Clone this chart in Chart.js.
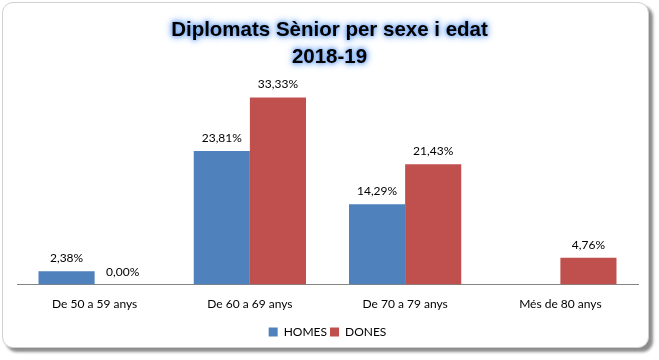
<!DOCTYPE html>
<html><head><meta charset="utf-8">
<script src="https://cdn.jsdelivr.net/npm/chart.js@4"></script>
<style>
html,body{margin:0;padding:0;background:#fff;width:659px;height:360px;overflow:hidden}
#frame{position:absolute;left:2px;top:2px;width:645px;height:344px;border:1px solid #d0d0d0;border-radius:11px;box-shadow:4px 4px 3px rgba(0,0,0,0.45);background:#fff}
#title{position:absolute;left:0;width:659px;top:15px;text-align:center;font:bold 20.5px "Liberation Sans",Arial,sans-serif;line-height:27px;color:#000;text-shadow:0 0 8px #79a9ef,0 0 6px #79a9ef,0 0 4px #8fb8f2,0 0 2px #a9c8f5}
#wrap{position:absolute;left:0;top:0;width:659px;height:360px}
</style></head>
<body>
<div id="frame"></div>
<div id="wrap"><canvas id="c"></canvas></div>
<div id="title">Diplomats Sènior per sexe i edat<br>2018-19</div>
<script>
const categories = ["De 50 a 59 anys", "De 60 a 69 anys", "De 70 a 79 anys", "Més de 80 anys"];
const homes = [2.38, 23.81, 14.29, null];
const dones = [0.00, 33.33, 21.43, 4.76];
const seriesNames = ["HOMES", "DONES"];
const FONT = 'Lato, "Liberation Sans", Arial, sans-serif';

const labelPlugin = {
  id: 'barLabels',
  afterDatasetsDraw(chart) {
    const ctx = chart.ctx;
    ctx.save();
    ctx.font = '12px ' + FONT;
    ctx.fillStyle = '#000';
    ctx.textAlign = 'center';
    ctx.textBaseline = 'alphabetic';
    chart.data.datasets.forEach((ds, i) => {
      const meta = chart.getDatasetMeta(i);
      meta.data.forEach((el, j) => {
        const v = ds.data[j];
        if (v === null || v === undefined) return;
        ctx.fillText(v.toFixed(2).replace('.', ',') + '%', el.x, el.y - 9);
      });
    });
    ctx.restore();
  }
};

new Chart(document.getElementById('c'), {
  type: 'bar',
  data: {
    labels: categories,
    datasets: [
      { label: seriesNames[0], data: homes, backgroundColor: '#4F81BD' },
      { label: seriesNames[1], data: dones, backgroundColor: '#C0504D' }
    ]
  },
  options: {
    responsive: true,
    maintainAspectRatio: false,
    animation: false,
    devicePixelRatio: 1,
    layout: { padding: { left: 17, right: 21, top: 60, bottom: 12 } },
    datasets: { bar: { categoryPercentage: 0.723, barPercentage: 1.0 } },
    scales: {
      x: {
        grid: { display: false, drawTicks: false },
        border: { color: '#868686' },
        ticks: { color: '#000', font: { size: 12, family: FONT }, padding: 12 }
      },
      y: { display: false, min: 0, max: 40 }
    },
    plugins: {
      legend: {
        position: 'bottom',
        labels: { boxWidth: 9, boxHeight: 9, color: '#000', font: { size: 12, family: FONT }, padding: 3 }
      },
      tooltip: { enabled: false },
      title: { display: false }
    }
  },
  plugins: [labelPlugin]
});
</script>
</body></html>
